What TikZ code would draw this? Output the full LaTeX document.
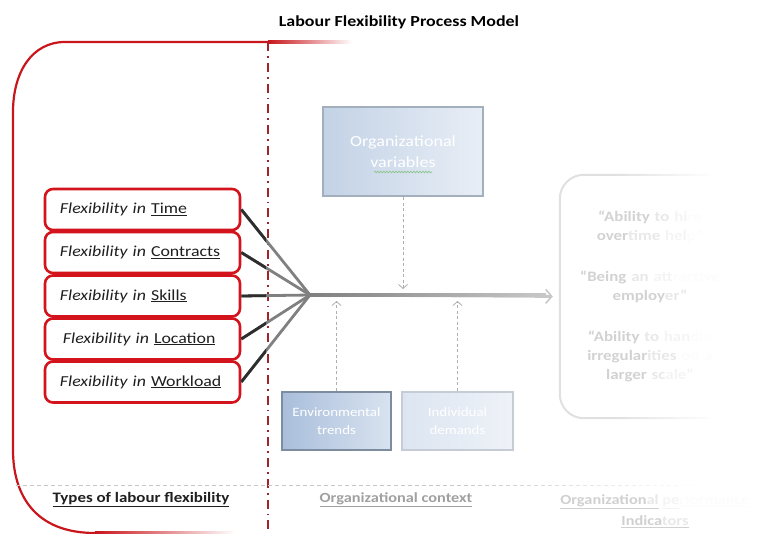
\documentclass[tikz,border=0pt]{standalone}
\usepackage{fontspec}
\setmainfont{Carlito}[FakeStretch=1.17]
\usetikzlibrary{arrows.meta,decorations.pathmorphing}
\definecolor{bred}{HTML}{C8161C}
\definecolor{boxred}{HTML}{D4141C}
\definecolor{ddred}{HTML}{A3232B}
\definecolor{txtdark}{HTML}{1F1F1F}
\definecolor{conndark}{HTML}{2E2E2E}
\definecolor{conngray}{HTML}{808080}
\definecolor{arrowgray}{HTML}{C8C8C8}
\definecolor{dashgray}{HTML}{AEAEAE}
\definecolor{ovleft}{HTML}{C3D2E6}
\definecolor{ovright}{HTML}{E8EEF6}
\definecolor{ovborder}{HTML}{A4AFBE}
\definecolor{etleft}{HTML}{A9BEDB}
\definecolor{etright}{HTML}{D9E3F0}
\definecolor{etborder}{HTML}{7E8CA0}
\definecolor{idleft}{HTML}{DCE5F1}
\definecolor{idright}{HTML}{EEF2F8}
\definecolor{idborder}{HTML}{C5CCD6}
\definecolor{rboxc}{HTML}{E0E0E0}
\definecolor{rtext}{HTML}{D2D2D2}
\definecolor{fa}{HTML}{E8E8E8}
\definecolor{fb}{HTML}{F4F4F4}
\definecolor{fc}{HTML}{FCFCFC}
\definecolor{ctxgray}{HTML}{A0A0A0}
\definecolor{perfgray}{HTML}{D0D0D0}
\definecolor{hline}{HTML}{C8C8C8}
\definecolor{squig}{HTML}{8CC58C}
\newcommand{\ca}[1]{\textcolor{fa}{#1}}
\newcommand{\cb}[1]{\textcolor{fb}{#1}}
\newcommand{\cc}[1]{\textcolor{fc}{#1}}
\begin{document}
\begin{tikzpicture}[x=1bp,y=-1bp,
  flexbox/.style={draw=boxred, line width=2.6bp, rounded corners=8bp, fill=white,
    minimum height=41bp, text width=165bp, inner xsep=15bp, align=left,
    font=\fontsize{15.3}{18}\selectfont, text=txtdark},
  bluebox/.style={line width=2.6bp, text=white, align=center, inner sep=0pt},
  conn/.style={line width=2.8bp, conngray},
  conndk/.style={line width=2.8bp, conndark},
  dasharrow/.style={dashgray, line width=0.8bp, dash pattern=on 3bp off 2.5bp,
    -{Straight Barb[length=4bp,width=9bp,line width=0.8bp]}},
  mainarrow/.style={arrowgray, line width=2.8bp, shorten >=7bp,
    -{Straight Barb[length=6bp,width=14bp,line width=1.6bp]}},
  perfbox/.style={minimum width=180bp, minimum height=243bp, text width=170bp, align=center,
    font=\bfseries\fontsize{14.5}{19.5}\selectfont, text=rtext},
  frame/.style={line width=2bp, rounded corners=24bp},
  sep/.style={line width=0.7bp, dash pattern=on 4bp off 3bp}
]
\useasboundingbox (0,0) rectangle (774,534);

% title
\node[font=\bfseries\fontsize{15.4}{18}\selectfont, text=black] (title) at (399,22) {Labour Flexibility Process Model};

% red outline of the first column
\draw[bred, line width=2.2bp] (268,42) -- (65,42) .. controls (32,42) and (13,72) .. (13,112)
  -- (13,450) .. controls (13,495) and (35,533) .. (95,533);
\shade[left color=bred, right color=white] (268,40.9) rectangle (352,43.1);
\shade[left color=bred, right color=white] (95,531.9) rectangle (235,534);

% dash-dot divider
\draw[ddred, line width=1.8bp, dash pattern=on 9bp off 5bp on 1.8bp off 5bp] (268,42) -- (268,534);

% horizontal dashed separator, fading to the right
\begin{scope}
  \clip (0,480) rectangle (460,490);
  \draw[sep, hline] (16,485) -- (774,485);
\end{scope}
\foreach \i in {0,...,23}{
  \pgfmathsetmacro{\pc}{100-4*(\i+1)}
  \pgfmathsetmacro{\xa}{460+10*\i}
  \pgfmathsetmacro{\xb}{470.05+10*\i}
  \begin{scope}
    \clip (\xa,480) rectangle (\xb,490);
    \draw[sep, color={hline!\pc!white}] (16,485) -- (774,485);
  \end{scope}
}

% flexibility boxes
\node[flexbox] (b1) at (142.5,209.5) {\textit{Flexibility in} \underline{Time}};
\node[flexbox] (b2) at (142.5,252.5) {\textit{Flexibility in} \underline{Contracts}};
\node[flexbox] (b3) at (142.5,296) {\textit{Flexibility in} \underline{Skills}};
\node[flexbox] (b4) at (142.5,339) {\hspace{3bp}\textit{Flexibility in} \underline{Location}};
\node[flexbox] (b5) at (142.5,382) {\textit{Flexibility in} \underline{Workload}};

\coordinate (hub) at (310,295);

% right-hand performance box (text)
\node[perfbox] (perf) at (650,296.5) {%
  “Ability \ca{to} \cb{hi}\cc{re}\\over\ca{time} \cb{hel}\cc{p”}\\[21bp]
  “Being \ca{an} \cb{att}\cc{ractive}\\employ\ca{er”}\\[21bp]
  “Ability \ca{to} \cb{han}\cc{dle}\\irregular\ca{ities} \cc{on a}\\larger \ca{sc}\cb{ale”}};
% its frame, fading to the right
\begin{scope}
  \clip (540,150) rectangle (618,440);
  \draw[frame, rboxc] (perf.north west) rectangle (perf.south east);
\end{scope}
\foreach \i in {0,...,23}{
  \pgfmathsetmacro{\pc}{100-4*(\i+1)}
  \pgfmathsetmacro{\xa}{618+4*\i}
  \pgfmathsetmacro{\xb}{622.05+4*\i}
  \begin{scope}
    \clip (\xa,150) rectangle (\xb,440);
    \draw[frame, color={rboxc!\pc!white}] (perf.north west) rectangle (perf.south east);
  \end{scope}
}

% main arrow
\draw[mainarrow] (hub) -- (perf.west);
\shade[left color=conngray, right color=arrowgray] (310,293.6) rectangle (546,296.4);

% connectors from boxes to hub
\foreach \b in {b1,b2,b3,b4,b5}{\draw[conn] (\b.east) -- (hub);}
\begin{scope}
  \clip (0,0) rectangle (266,534);
  \foreach \b in {b1,b2,b3,b4,b5}{\draw[conndk] (\b.east) -- (hub);}
\end{scope}

% organizational variables
\node[bluebox, left color=ovleft, right color=ovright, draw=ovborder,
  minimum width=160bp, minimum height=89bp,
  font=\fontsize{15.5}{21}\selectfont] (orgvar) at (403,151.5) {Organizational\\variables};
\draw[squig, line width=0.7bp, decorate, decoration={snake, amplitude=0.8bp, segment length=3bp}]
  (374,172) -- (432,172);

% environmental trends, individual demands
\node[bluebox, left color=etleft, right color=etright, draw=etborder,
  minimum width=109bp, minimum height=58bp,
  font=\fontsize{12.8}{18}\selectfont] (env) at (336.5,421) {Environmental\\trends};
\node[bluebox, left color=idleft, right color=idright, draw=idborder,
  minimum width=111bp, minimum height=58bp,
  font=\fontsize{12.8}{18}\selectfont] (ind) at (457.5,421) {Individual\\demands};

\coordinate (ovtip) at (403,289);
\coordinate (ettip) at (336.5,301);
\coordinate (idtip) at (457.5,301);
\draw[dasharrow] (orgvar.south) -- (ovtip);
\draw[dasharrow] (env.north) -- (ettip);
\draw[dasharrow] (ind.north) -- (idtip);

% column labels
\node[font=\bfseries\fontsize{14.5}{17}\selectfont, text=txtdark] (lab1) at (141,500) {\underline{Types of labour flexibility}};
\node[font=\bfseries\fontsize{14}{17}\selectfont, text=ctxgray] (lab2) at (396,500) {\underline{Organizational context}};
\node[font=\bfseries\fontsize{14}{21}\selectfont, text=perfgray, align=center] (lab3) at (655,511)
  {\underline{Organization\ca{al}} \textcolor{fb}{\underline{pe}}\textcolor{fc}{\underline{rformance}}\\\underline{Indica\ca{tors}}};
\end{tikzpicture}
\end{document}
